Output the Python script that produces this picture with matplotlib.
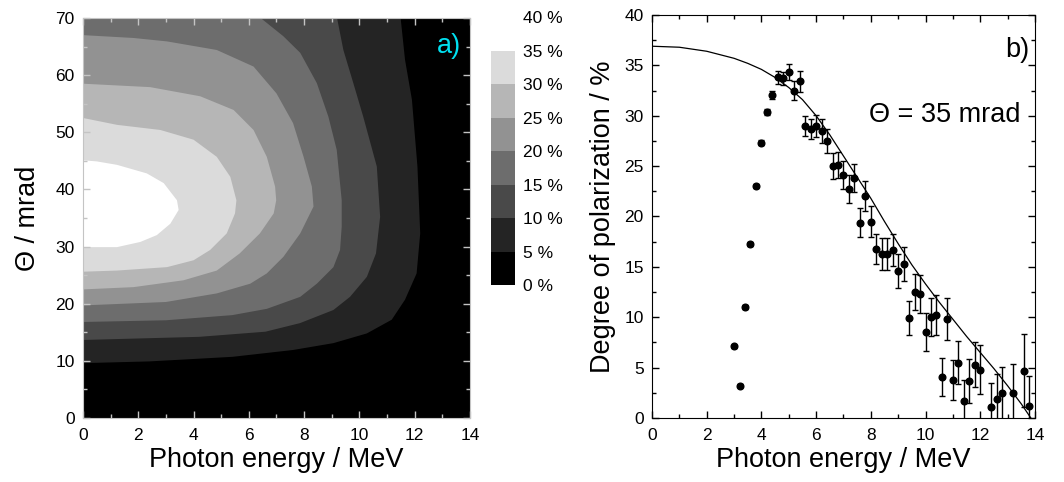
import matplotlib
matplotlib.use('Agg')
import matplotlib.pyplot as plt
from matplotlib.colors import ListedColormap, BoundaryNorm
from matplotlib.cm import ScalarMappable
from matplotlib.ticker import MultipleLocator

plt.rcParams['font.family'] = ['Liberation Sans', 'DejaVu Sans']

# ---- panel a): contour boundaries (E / MeV, theta / mrad) of regions P > level
levels = [0, 5, 10, 15, 20, 25, 30, 35, 40]

e05 = [0, 2.4, 5.4, 7.6, 9.06, 10.27, 11.17, 11.65, 12.07, 12.2, 12.1, 11.9, 11.65, 11.47, 0]
t05 = [9.6, 9.9, 10.7, 11.9, 13.1, 14.8, 17.2, 20.7, 25.3, 32.3, 44, 55.7, 62.7, 71, 71]

e10 = [0, 4.2, 6.6, 7.85, 9.06, 9.66, 10.27, 10.6, 10.75, 10.63, 10.14, 9.78, 9.42, 9.15, 0]
t10 = [13.65, 14.2, 15.1, 16.6, 18.9, 21.2, 24.7, 28.8, 35.2, 44, 52.7, 58.6, 64.4, 71, 71]

e15 = [0, 3.0, 5.4, 6.65, 7.86, 8.46, 9.06, 9.3, 9.36, 9.36, 9.18, 8.88, 8.46, 7.86, 7.25, 6.17, 0]
t15 = [16.8, 17.1, 18.0, 19.1, 21.2, 23.5, 26.4, 29.4, 33.5, 38.1, 46.9, 52.7, 58.6, 63.9, 66.8, 71, 71]

e20 = [0, 3.0, 4.84, 6.05, 6.65, 7.25, 7.86, 8.34, 8.28, 7.98, 7.6, 7.0, 6.17, 4.84, 3.04, 1.83, 0]
t20 = [19.7, 20.3, 21.8, 23.5, 25.3, 28.2, 32.3, 37, 40.5, 45.7, 51.6, 56.8, 61.5, 64.4, 65.9, 66.5, 67]

e25 = [0, 1.83, 3.64, 4.84, 5.67, 6.4, 6.9, 6.99, 6.95, 6.65, 6.17, 5.45, 4.24, 2.43, 0]
t25 = [22.5, 22.9, 24.1, 25.8, 28.8, 32.3, 35.8, 38.1, 40.5, 45.7, 50.4, 53.9, 56.3, 57.9, 58.5]

e30 = [0, 1.23, 3.04, 4.0, 4.6, 5.2, 5.5, 5.55, 5.33, 4.84, 4.0, 2.8, 1.23, 0]
t30 = [25.6, 25.8, 26.4, 27.6, 29.4, 32.3, 35.8, 38.1, 42.2, 45.7, 48.7, 50.4, 51.3, 52.5]

e35 = [0, 1.23, 2.07, 2.67, 3.16, 3.46, 3.4, 2.92, 2.31, 1.23, 0.5, 0]
t35 = [29.9, 29.9, 30.8, 32, 34, 36.4, 38.1, 41.1, 42.8, 44.3, 44.9, 45.1]

regions = [(e05, t05), (e10, t10), (e15, t15), (e20, t20),
           (e25, t25), (e30, t30), (e35, t35)]

# ---- panel b): measured polarization and simulation
x_meas = [3.0, 3.2, 3.4, 3.6, 3.8, 4.0, 4.2, 4.4, 4.6, 4.8, 5.0, 5.2, 5.4,
          5.6, 5.8, 6.0, 6.2, 6.4, 6.6, 6.8, 7.0, 7.2, 7.4, 7.6, 7.8, 8.0,
          8.2, 8.4, 8.6, 8.8, 9.0, 9.2, 9.4, 9.6, 9.8, 10.0, 10.2, 10.4, 10.6,
          10.8, 11.0, 11.2, 11.4, 11.6, 11.8, 12.0, 12.4, 12.6, 12.8, 13.2,
          13.6, 13.8]
y_meas = [7.1, 3.2, 11.0, 17.3, 23.0, 27.3, 30.4, 32.1, 33.8, 33.7, 34.3, 32.5, 33.4,
          29.0, 28.7, 29.0, 28.5, 27.5, 25.0, 25.1, 24.1, 22.7, 23.8, 19.4, 22.0, 19.5,
          16.8, 16.3, 16.3, 16.7, 14.6, 15.3, 9.9, 12.5, 12.3, 8.5, 10.0, 10.2, 4.1,
          9.8, 3.8, 5.5, 1.7, 3.7, 5.3, 4.8, 1.1, 1.9, 2.5, 2.5,
          4.7, 1.2]
y_err = [0.15, 0.15, 0.2, 0.2, 0.2, 0.25, 0.3, 0.4, 0.6, 0.6, 0.8, 0.9, 1.0,
         1.0, 1.0, 1.1, 1.2, 1.2, 1.3, 1.3, 1.4, 1.4, 1.4, 1.4, 1.5, 1.5,
         1.5, 1.6, 1.6, 1.6, 1.7, 1.7, 1.7, 1.8, 1.9, 1.9, 1.9, 2.0, 1.9,
         2.1, 2.0, 2.1, 2.1, 2.2, 2.2, 2.4, 2.4, 2.5, 2.6, 2.9,
         3.6, 3.0]

x_sim = [0, 1, 2, 3, 3.5, 4, 4.5, 5, 5.5, 6, 6.5, 7, 7.5, 8, 8.5, 9, 9.5,
         10, 10.5, 11, 11.5, 12, 12.5, 13, 13.5, 13.85]
y_sim = [36.9, 36.8, 36.4, 35.7, 35.2, 34.6, 33.8, 32.8, 31.6, 30.0, 28.1, 26.0, 23.9,
         21.8, 19.5, 17.3, 15.2, 13.3, 11.5, 9.8, 8.1, 6.5, 4.9, 3.2, 1.4, 0.0]

fs_lab = 19.5
fs_tick = 12.5

fig = plt.figure(figsize=(10.64, 4.82), dpi=100)
ax1 = fig.add_axes([0.078, 0.1328, 0.3637, 0.8299])
cax = fig.add_axes([0.4615, 0.4087, 0.0225, 0.556])
ax2 = fig.add_axes([0.6128, 0.1328, 0.3599, 0.8361])

grays = ListedColormap([str(i / 7) for i in range(8)])
norm = BoundaryNorm(levels, grays.N)

ax1.set_facecolor('black')
for k, (e, t) in enumerate(regions):
    ax1.fill(e, t, color=grays(k + 1), lw=0)
ax1.set_xlim(0, 14)
ax1.set_ylim(0, 70)
ax1.xaxis.set_major_locator(MultipleLocator(2))
ax1.xaxis.set_minor_locator(MultipleLocator(1))
ax1.yaxis.set_major_locator(MultipleLocator(10))
ax1.yaxis.set_minor_locator(MultipleLocator(5))
ax1.tick_params(which='both', direction='in', top=True, right=True,
                color='#c4c4c4', labelsize=fs_tick, width=1)
ax1.tick_params(which='major', length=5)
ax1.tick_params(which='minor', length=3)
ax1.tick_params(axis='x', pad=7)
ax1.tick_params(axis='y', pad=6)
for s in ax1.spines.values():
    s.set_color('#c4c4c4')
ax1.set_xlabel('Photon energy / MeV', fontsize=fs_lab, labelpad=3)
ax1.set_ylabel('Θ / mrad', fontsize=fs_lab, labelpad=10)
ax1.text(0.978, 0.93, 'a)', transform=ax1.transAxes, ha='right', va='center',
         fontsize=fs_lab, color='#00e0f0')

cb = fig.colorbar(ScalarMappable(norm=norm, cmap=grays), cax=cax, ticks=levels)
cb.outline.set_visible(False)
cax.tick_params(length=0, pad=6, labelsize=fs_tick)
cax.set_yticklabels([f'{v} %' for v in levels])

ax2.plot(x_sim, y_sim, color='black', lw=0.9)
ax2.errorbar(x_meas, y_meas, yerr=y_err, fmt='o', color='black', ms=4.8,
             capsize=2.5, elinewidth=1, capthick=1)
ax2.set_xlim(0, 14)
ax2.set_ylim(0, 40)
ax2.xaxis.set_major_locator(MultipleLocator(2))
ax2.xaxis.set_minor_locator(MultipleLocator(1))
ax2.yaxis.set_major_locator(MultipleLocator(5))
ax2.yaxis.set_minor_locator(MultipleLocator(2.5))
ax2.tick_params(which='both', direction='in', top=True, right=True,
                labelsize=fs_tick, width=1)
ax2.tick_params(which='major', length=5)
ax2.tick_params(which='minor', length=3)
ax2.tick_params(axis='x', pad=7)
ax2.tick_params(axis='y', pad=6)
ax2.set_xlabel('Photon energy / MeV', fontsize=fs_lab, labelpad=3)
ax2.set_ylabel('Degree of polarization / %', fontsize=fs_lab, labelpad=6)
ax2.text(0.985, 0.913, 'b)', transform=ax2.transAxes, ha='right', va='center',
         fontsize=fs_lab)
ax2.text(0.765, 0.752, 'Θ = 35 mrad', transform=ax2.transAxes, ha='center',
         va='center', fontsize=fs_lab)

fig.savefig('out.png', dpi=100)
